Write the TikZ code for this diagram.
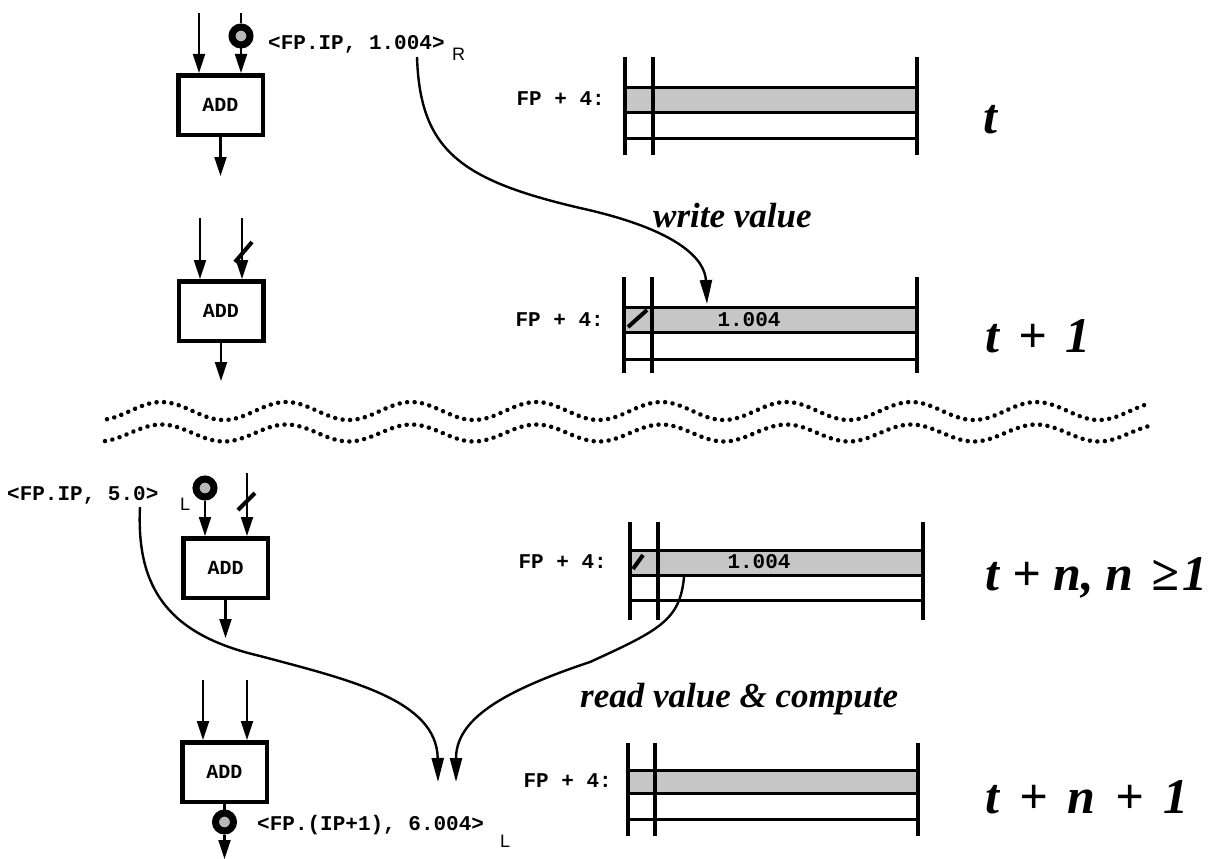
\documentclass[tikz,border=0pt]{standalone}
\usepackage{fontspec}
\setmainfont{Liberation Serif}
\newfontfamily\monof{Liberation Mono}
\newfontfamily\sansf{Liberation Sans}
\usetikzlibrary{arrows.meta}
\tikzset{
  arr/.style={line width=2.2pt,-{Triangle[length=19pt,width=12pt]}},
  wire/.style={line width=2.2pt},
  curve/.style={line width=2.4pt,-{Triangle[length=24pt,width=12pt]}},
  addbox/.style={draw,line width=4.5pt,minimum width=84.5pt,minimum height=59.5pt,inner sep=0pt,font=\monof\bfseries\fontsize{20}{20}\selectfont},
  token/.style={circle,draw=black,line width=7pt,fill=gray!55,minimum size=18pt,inner sep=0pt},
  mono/.style={font=\monof\bfseries\fontsize{21}{21}\selectfont,inner sep=0pt},
  side/.style={font=\sansf\fontsize{18}{18}\selectfont,inner sep=0pt,anchor=base west},
  tlabel/.style={font=\bfseries\itshape\fontsize{50}{50}\selectfont,inner sep=0pt,anchor=base west},
  note/.style={font=\bfseries\itshape\fontsize{35}{35}\selectfont,inner sep=0pt,anchor=base west},
  memfill/.style={fill=gray!45},
  hline/.style={line width=3pt},
  vbar/.style={line width=4.5pt},
  vbartwo/.style={line width=4pt},
  slashmark/.style={line width=4pt},
  wavy/.style={line width=4.5pt,line cap=round,dash pattern=on 0.01pt off 7.5pt},
}
\newcommand\memblock[8]{%
  \fill[memfill] (#1,#5) rectangle (#3,#6);
  \draw[hline] (#1,#5) -- (#3,#5);
  \draw[hline] (#1,#6) -- (#3,#6);
  \draw[hline] (#1,#7) -- (#3,#7);
  \draw[vbar] (#1,#4) -- (#1,#8);
  \draw[vbartwo] (#2,#4) -- (#2,#8);
  \draw[vbar] (#3,#4) -- (#3,#8);
}
\begin{document}
\begin{tikzpicture}[x=1pt,y=-1pt]
\useasboundingbox (0,0) rectangle (1223,859);

% ---------- block 1 (t)
\node[addbox] (box1) at (220.5,105) {ADD};
\coordinate (b1a) at (199,13);
\coordinate (b1b) at (241,13);
\coordinate (b1o) at (220.5,176);
\draw[arr] (b1a) -- (b1a |- box1.north);
\node[token] (tok1) at (241,36) {};
\draw[wire] (b1b) -- (tok1.north);
\draw[arr] (tok1.south) -- (tok1.south |- box1.north);
\draw[arr] (box1.south) -- (b1o);
\node[mono,anchor=base west] (lab1) at (268,50) {<FP.IP, 1.004>};
\node[side] (lab1s) at (452,61) {R};

% ---------- block 2 (t+1)
\node[addbox] (box2) at (221,311) {ADD};
\coordinate (b2a) at (200,218);
\coordinate (b2b) at (242,218);
\coordinate (b2o) at (221,381);
\draw[arr] (b2a) -- (b2a |- box2.north);
\draw[arr] (b2b) -- (b2b |- box2.north);
\draw[arr] (box2.south) -- (b2o);
\coordinate (s2a) at (235,262);
\coordinate (s2b) at (252,242);
\draw[slashmark] (s2a) -- (s2b);

% ---------- block 3 (t+n)
\node[addbox] (box3) at (225.5,568) {ADD};
\coordinate (b3b) at (247,473);
\coordinate (b3o) at (225.5,638);
\node[token] (tok3) at (205,488) {};
\draw[arr] (tok3.south) -- (tok3.south |- box3.north);
\draw[arr] (b3b) -- (b3b |- box3.north);
\draw[arr] (box3.south) -- (b3o);
\coordinate (s3a) at (238,510);
\coordinate (s3b) at (255,493);
\draw[slashmark] (s3a) -- (s3b);
\node[mono,anchor=base west] (lab3) at (7,500) {<FP.IP, 5.0>};
\node[side] (lab3s) at (180,510) {L};

% ---------- block 4 (t+n+1)
\node[addbox] (box4) at (224.5,772) {ADD};
\coordinate (b4a) at (203,680);
\coordinate (b4b) at (247,680);
\coordinate (b4o) at (224.5,859);
\node[token] (tok4) at (224.5,822) {};
\draw[arr] (b4a) -- (b4a |- box4.north);
\draw[arr] (b4b) -- (b4b |- box4.north);
\draw[wire] (box4.south) -- (tok4.north);
\draw[arr] (tok4.south) -- (b4o);
\node[mono,anchor=base west] (lab4) at (257,830) {<FP.(IP+1), 6.004>};
\node[side] (lab4s) at (500,847) {L};

% ---------- memory frames
\memblock{625}{653}{917}{57}{87}{112}{138}{155}
\memblock{624}{652}{917}{277}{307}{332}{359}{373}
\memblock{630}{658}{923}{522}{550}{575}{600}{620}
\memblock{628}{655}{918}{743}{770}{793}{819}{836}

\node[mono,anchor=base east] (fp1) at (605,105) {FP + 4:};
\node[mono,anchor=base east] (fp2) at (604,326) {FP + 4:};
\node[mono,anchor=base east] (fp3) at (607,568) {FP + 4:};
\node[mono,anchor=base east] (fp4) at (612,787) {FP + 4:};

\node[mono,anchor=base] (v2) at (749,326) {1.004};
\node[mono,anchor=base] (v3) at (759,568) {1.004};

\coordinate (m2a) at (628,327);
\coordinate (m2b) at (647,310);
\draw[slashmark] (m2a) -- (m2b);
\coordinate (m3a) at (633,569);
\coordinate (m3b) at (643,555);
\draw[slashmark] (m3a) -- (m3b);

% ---------- wavy separators
\draw[wavy] plot[domain=107:1150,samples=300] (\x,{411-9*sin(2.88*(\x-130))});
\draw[wavy] plot[domain=105:1150,samples=300] (\x,{433-8.5*sin(2.88*(\x-130))});

% ---------- curves
\coordinate (w0) at (417,57);
\coordinate (w1) at (707,304);
\draw[curve] (w0) .. controls (420,150) and (460,180) .. (580,208) .. controls (680,230) and (705,260) .. (w1);
\coordinate (c0) at (140,507);
\coordinate (c1) at (438,782);
\draw[curve] (c0) .. controls (136,590) and (170,635) .. (260,656) .. controls (350,680) and (437,700) .. (c1);
\coordinate (r0) at (684,577);
\coordinate (r1) at (456,782);
\draw[curve] (r0) .. controls (680,620) and (660,630) .. (590,662) .. controls (500,692) and (456,720) .. (r1);

% ---------- texts
\node[note] (wv) at (653,227) {write value};
\node[note] (rv) at (580,707) {read value \& compute};
\node[tlabel] (t1) at (983,133) {t};
\node[tlabel] (t2) at (985,352) {t\hspace{19pt}+\hspace{19pt}1};
\node[tlabel] (t3) at (985,590) {t\hspace{13pt}+\hspace{13pt}n,\hspace{12pt}n\hspace{18pt}≥\hspace{3pt}1};
\node[tlabel] (t4) at (985,813) {t\hspace{20pt}+\hspace{20pt}n\hspace{20pt}+\hspace{20pt}1};
\end{tikzpicture}
\end{document}
